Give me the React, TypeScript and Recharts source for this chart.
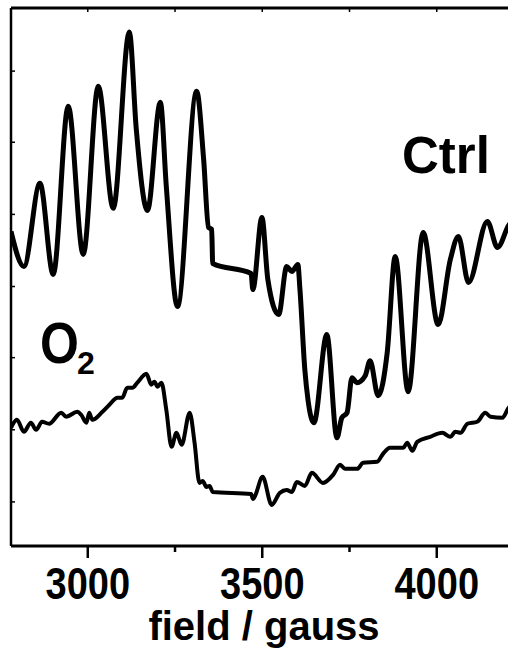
import { LineChart, Line, XAxis, YAxis } from "recharts";

// EPR spectra (signal in arbitrary units)
const ctrlField = [
  2780, 2817, 2863, 2901, 2944, 2987, 3030, 3073, 3119, 3139, 3171, 3208, 3225,
  3257, 3312, 3332, 3346, 3355, 3358, 3468, 3473, 3499, 3516, 3547, 3570, 3585,
  3602, 3608, 3622, 3631, 3648, 3685, 3714, 3728, 3743, 3757, 3771, 3795, 3809,
  3832, 3858, 3881, 3918, 3961, 4004, 4039, 4062, 4091, 4145, 4174, 4206, 4240,
];
const ctrlSignal = [
  314, 279, 362, 271, 439, 291, 459, 337, 513, 416, 335, 443, 359, 239, 454,
  386, 318, 316, 282, 272, 256, 328, 266, 231, 279, 274, 281, 256, 176, 146,
  123, 211, 108, 128, 133, 168, 163, 170, 185, 150, 193, 289, 154, 313, 221,
  286, 309, 263, 324, 298, 320, 331,
];

const o2Field = [
  2780, 2797, 2817, 2837, 2852, 2869, 2889, 2924, 2938, 2970, 2981, 2996, 3004,
  3013, 3042, 3062, 3085, 3099, 3113, 3128, 3142, 3168, 3182, 3191, 3200, 3211,
  3225, 3240, 3254, 3269, 3292, 3306, 3320, 3329, 3340, 3349, 3358, 3468, 3473,
  3478, 3501, 3527, 3550, 3570, 3585, 3599, 3622, 3642, 3674, 3703, 3723, 3737,
  3772, 3789, 3829, 3846, 3866, 3904, 3915, 3930, 3944, 3981, 4016, 4039, 4053,
  4068, 4088, 4116, 4139, 4154, 4188, 4206, 4240,
];
const o2Signal = [
  118, 126, 114, 123, 116, 124, 122, 133, 129, 134, 131, 123, 133, 126, 134,
  141, 148, 148, 158, 158, 163, 172, 161, 164, 159, 163, 136, 99, 113, 101, 133,
  103, 63, 65, 59, 60, 54, 52, 47, 49, 69, 41, 53, 56, 54, 64, 60, 73, 63, 71,
  81, 77, 77, 83, 84, 92, 98, 98, 103, 95, 104, 109, 113, 109, 114, 113, 122,
  124, 133, 129, 128, 138, 145,
];

const fieldTicks = [3000, 3250, 3500, 3750, 4000];
const signalTicks = [44, 116, 188, 259, 331, 403, 474];

const ctrlData = ctrlField.map((field, i) => ({ field, signal: ctrlSignal[i] }));
const o2Data = o2Field.map((field, i) => ({ field, signal: o2Signal[i] }));

const font = "'Liberation Sans', Arial, Helvetica, sans-serif";

const FieldTick = (props: any) => {
  const { x, y, payload } = props;
  const major = payload.value % 500 === 0;
  return (
    <g>
      <line x1={x} x2={x} y1={y} y2={y + (major ? 12 : 6)} stroke="#000" strokeWidth={2.5} />
      {major && (
        <text
          transform={`translate(${x},${y + 53}) scale(1,1.18)`}
          textAnchor="middle"
          fontFamily={font}
          fontWeight="bold"
          fontSize={38}
          fill="#000"
        >
          {payload.value}
        </text>
      )}
    </g>
  );
};

export default function App() {
  return (
    <div
      style={{
        position: "absolute",
        left: 0,
        top: 0,
        width: 508,
        height: 658,
        overflow: "hidden",
        background: "#fff",
      }}
    >
      <LineChart
        width={540}
        height={658}
        margin={{ top: 8, right: 16, left: 11, bottom: 0 }}
        accessibilityLayer={false}
      >
        <XAxis
          xAxisId="bottom"
          dataKey="field"
          type="number"
          domain={[2780, 4250]}
          allowDataOverflow
          ticks={fieldTicks}
          height={112}
          tickSize={0}
          tickMargin={0}
          tickLine={false}
          tick={<FieldTick />}
          axisLine={{ stroke: "#000", strokeWidth: 3 }}
        />
        <XAxis
          xAxisId="top"
          orientation="top"
          dataKey="field"
          type="number"
          domain={[2780, 4250]}
          allowDataOverflow
          ticks={fieldTicks}
          height={1}
          mirror
          tickSize={4}
          tickFormatter={() => ""}
          tickLine={{ stroke: "#000", strokeWidth: 1.5 }}
          axisLine={{ stroke: "#000", strokeWidth: 3 }}
        />
        <YAxis
          dataKey="signal"
          type="number"
          domain={[0, 537]}
          allowDataOverflow
          ticks={signalTicks}
          width={1}
          mirror
          tickSize={4}
          tickFormatter={() => ""}
          tickLine={{ stroke: "#000", strokeWidth: 1.5 }}
          axisLine={{ stroke: "#000", strokeWidth: 2.5 }}
        />
        <Line
          xAxisId="bottom"
          data={ctrlData}
          dataKey="signal"
          type="monotone"
          stroke="#000"
          strokeWidth={5}
          strokeLinejoin="round"
          dot={false}
          isAnimationActive={false}
        />
        <Line
          xAxisId="bottom"
          data={o2Data}
          dataKey="signal"
          type="monotone"
          stroke="#000"
          strokeWidth={4}
          strokeLinejoin="round"
          dot={false}
          isAnimationActive={false}
        />
      </LineChart>
      <svg
        width={508}
        height={658}
        style={{ position: "absolute", left: 0, top: 0, pointerEvents: "none" }}
        fontFamily={font}
        fontWeight="bold"
        fill="#000"
      >
        <text x={402} y={173} fontSize={51}>
          Ctrl
        </text>
        <text transform="translate(40,363) scale(1,1.13)" fontSize={50}>
          O
        </text>
        <text x={77} y={374} fontSize={32}>
          2
        </text>
        <text x={264} y={640} fontSize={40} textAnchor="middle">
          field / gauss
        </text>
      </svg>
    </div>
  );
}
